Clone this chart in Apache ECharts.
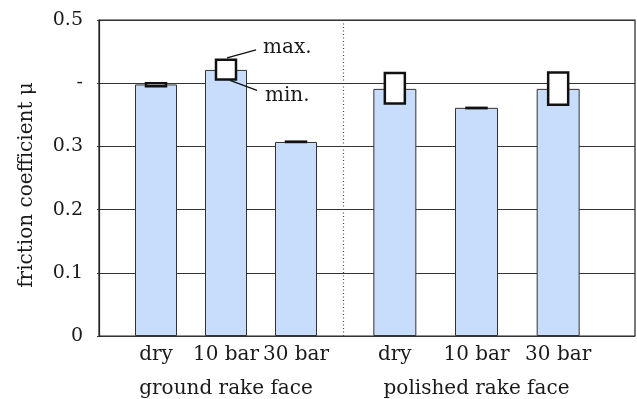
<!DOCTYPE html>
<html>
<head>
<meta charset="utf-8">
<script src="https://cdn.jsdelivr.net/npm/echarts@6/dist/echarts.min.js"></script>
<style>html,body{margin:0;padding:0;background:#fff}#c{width:637px;height:399px}</style>
</head>
<body>
<div id="c"></div>
<script>
var conditions = ['dry', '10 bar', '30 bar'];
var groupNames = ['ground rake face', 'polished rake face'];
var yTickLabels = ['0', '0.1', '0.2', '0.3', '-', '0.5'];
var groundMean = [0.398, 0.421, 0.307];
var groundMin = [0.395, 0.406, 0.307];
var groundMax = [0.400, 0.437, 0.3075];
var polishedMean = [0.391, 0.361, 0.391];
var polishedMin = [0.368, 0.3605, 0.366];
var polishedMax = [0.416, 0.361, 0.417];

var FONT = 'DejaVu Serif';
var TXT = '#1a1a1a';

function rangeData(mins, maxs) {
  return conditions.map(function (c, i) { return [i, mins[i], maxs[i]]; });
}
function renderBox(params, api) {
  var p1 = api.coord([api.value(0), api.value(2)]);
  var p2 = api.coord([api.value(0), api.value(1)]);
  var w = 20;
  return {
    type: 'rect',
    shape: { x: p1[0] - w / 2, y: p1[1], width: w, height: p2[1] - p1[1] },
    style: { fill: '#fff', stroke: '#111', lineWidth: 2.5 }
  };
}

var chart = echarts.init(document.getElementById('c'));
var catAxis = function (gi, name) {
  return {
    type: 'category', gridIndex: gi, data: conditions,
    axisLine: { show: false }, axisTick: { show: false },
    axisLabel: { fontFamily: FONT, fontSize: 20, color: TXT, margin: 9, interval: 0, hideOverlap: false },
    name: name, nameLocation: 'middle', nameGap: 43,
    nameTextStyle: { fontFamily: FONT, fontSize: 20, color: TXT }
  };
};
var hiddenY = function (gi) {
  return { type: 'value', gridIndex: gi, min: 0, max: 0.5, show: false, splitLine: { show: false } };
};
var barStyle = { color: '#c7ddfb', borderColor: '#333', borderWidth: 1 };

chart.setOption({
  animation: false,
  grid: [
    { left: 99, right: 2, top: 20, bottom: 63, show: true, borderColor: '#222', borderWidth: 1.2, backgroundColor: 'transparent', outerBoundsMode: 'none', containLabel: false },
    { left: 121, width: 210, top: 20, bottom: 63, outerBoundsMode: 'none', containLabel: false },
    { left: 354, width: 245, top: 20, bottom: 63, outerBoundsMode: 'none', containLabel: false }
  ],
  xAxis: [
    { type: 'value', gridIndex: 0, min: 0, max: 1, show: false },
    catAxis(1, groupNames[0]),
    catAxis(2, groupNames[1])
  ],
  yAxis: [
    {
      type: 'value', gridIndex: 0, min: 0, max: 0.5, interval: 0.1,
      axisLine: { show: true, lineStyle: { color: '#222', width: 1.2 } },
      axisTick: { show: true, inside: false, length: 2, lineStyle: { color: '#333' } },
      axisLabel: {
        fontFamily: FONT, fontSize: 19, color: TXT, margin: 16,
        formatter: function (v) { return yTickLabels[Math.round(v * 10)]; }
      },
      splitLine: { show: true, lineStyle: { color: '#333', width: 1.2 } },
      name: 'friction coefficient μ', nameLocation: 'middle', nameGap: 62,
      nameTextStyle: { fontFamily: FONT, fontSize: 20, color: TXT, padding: [0, 14, 0, 0] }
    },
    hiddenY(1), hiddenY(2)
  ],
  series: [
    { type: 'line', xAxisIndex: 0, yAxisIndex: 0, data: [], silent: true },
    { type: 'bar', xAxisIndex: 1, yAxisIndex: 1, data: groundMean, barWidth: 42, itemStyle: barStyle, z: 3 },
    { type: 'bar', xAxisIndex: 2, yAxisIndex: 2, data: polishedMean, barWidth: 43, itemStyle: barStyle, z: 3 },
    { type: 'custom', xAxisIndex: 1, yAxisIndex: 1, data: rangeData(groundMin, groundMax), renderItem: renderBox, z: 5 },
    { type: 'custom', xAxisIndex: 2, yAxisIndex: 2, data: rangeData(polishedMin, polishedMax), renderItem: renderBox, z: 5 }
  ]
});

// annotations and separator
var topP = chart.convertToPixel({ xAxisIndex: 1, yAxisIndex: 1 }, [1, groundMax[1]]);
var botP = chart.convertToPixel({ xAxisIndex: 1, yAxisIndex: 1 }, [1, groundMin[1]]);
var gA = chart.convertToPixel({ xAxisIndex: 1, yAxisIndex: 1 }, [2, 0.5]);
var gB = chart.convertToPixel({ xAxisIndex: 2, yAxisIndex: 2 }, [0, 0]);
var sepX = Math.round((gA[0] + gB[0]) / 2 - 2) + 0.5;
chart.setOption({
  graphic: [
    { type: 'line', shape: { x1: sepX, y1: gA[1], x2: sepX, y2: gB[1] }, style: { stroke: '#444', lineWidth: 1.2, lineDash: [1, 2.5] }, z: 10 },
    { type: 'line', shape: { x1: topP[0] + 1, y1: topP[1] - 2, x2: topP[0] + 30, y2: topP[1] - 10 }, style: { stroke: '#111', lineWidth: 1.3 }, z: 10 },
    { type: 'line', shape: { x1: topP[0] + 4, y1: botP[1] + 1, x2: topP[0] + 31, y2: botP[1] + 11 }, style: { stroke: '#111', lineWidth: 1.3 }, z: 10 },
    { type: 'text', x: topP[0] + 37, y: topP[1] - 12, style: { text: 'max.', font: '20px "DejaVu Serif"', fill: TXT, textVerticalAlign: 'middle' }, z: 10 },
    { type: 'text', x: topP[0] + 39, y: botP[1] + 16, style: { text: 'min.', font: '20px "DejaVu Serif"', fill: TXT, textVerticalAlign: 'middle' }, z: 10 }
  ]
});
</script>
</body>
</html>
